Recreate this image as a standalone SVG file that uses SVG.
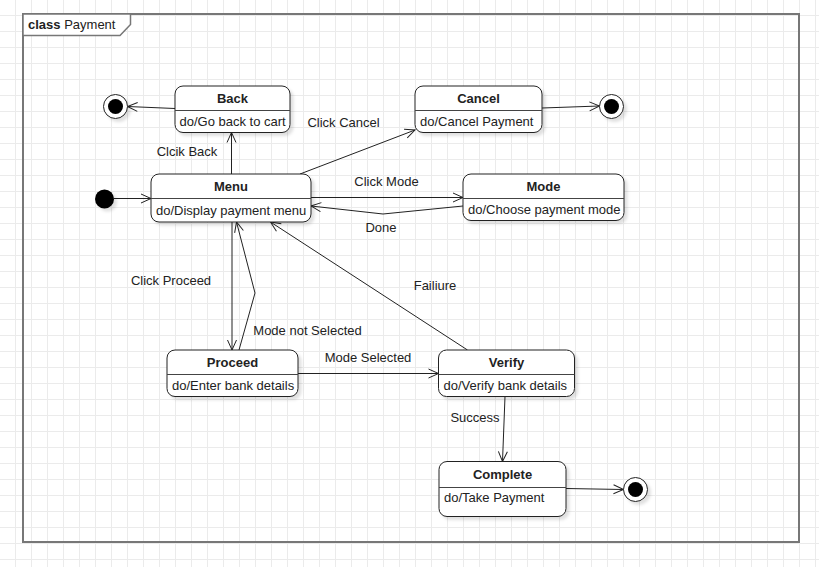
<svg xmlns="http://www.w3.org/2000/svg" width="819" height="567" viewBox="0 0 819 567">
  <style>
    text { font-family: "Liberation Sans", Arial, sans-serif; font-size: 13px; fill: #222; }
    .title { font-weight: bold; text-anchor: middle; }
    .act { text-anchor: start; }
    .lbl { text-anchor: middle; }
    .state { fill: #fff; stroke: #222; stroke-width: 1; }
    .div { stroke: #444; stroke-width: 1; }
    .edge { fill: none; stroke: #222; stroke-width: 1; marker-end: url(#open); }
    .frame { fill: none; stroke: #777; stroke-width: 2; }
  </style>
  <defs>
    <pattern id="grid" patternUnits="userSpaceOnUse" width="16" height="16">
      <path d="M15.5,0 V16 M0,15.5 H16" stroke="#ebebeb" stroke-width="1" fill="none"/>
    </pattern>
    <filter id="shadow" x="-20%" y="-20%" width="150%" height="150%">
      <feDropShadow dx="3" dy="3" stdDeviation="1.5" flood-color="#000" flood-opacity="0.12"/>
    </filter>
    <marker id="open" viewBox="-11 -6 12 12" refX="0" refY="0" markerWidth="12" markerHeight="12" markerUnits="userSpaceOnUse" orient="auto">
      <path d="M-10,-4.5 L0,0 L-10,4.5" fill="none" stroke="#222" stroke-width="1"/>
    </marker>
  </defs>

  <!-- background grid -->
  <rect width="819" height="567" fill="#fff"/>
  <rect width="819" height="567" fill="url(#grid)"/>

  <!-- class frame -->
  <g id="frame">
    <rect class="frame" x="23" y="14" width="776" height="528"/>
    <path d="M23,14 H130.5 V24.5 L120,35.5 H23 Z" fill="#fff" stroke="#777" stroke-width="1.5"/>
    <text x="28" y="29"><tspan font-weight="bold">class</tspan> Payment</text>
  </g>

  <!-- connectors -->
  <g id="connectors">
    <path class="edge" d="M114,198.5 L151,198.5"/>
    <path class="edge" d="M231.5,174 L231.5,132.5"/>
    <path class="edge" d="M175,108.5 L127.5,106.5"/>
    <path class="edge" d="M300,174 L415,130"/>
    <path class="edge" d="M542,108 L599.5,106"/>
    <path class="edge" d="M311,197.5 L463,197.5"/>
    <path class="edge" d="M463,206 L383,214 L311,206"/>
    <path class="edge" d="M232,222 L232,350"/>
    <path class="edge" d="M239,350 L255,293 L236.5,222"/>
    <path class="edge" d="M298,373.5 L438.5,373.5"/>
    <path class="edge" d="M467.5,350 L270.5,222"/>
    <path class="edge" d="M505,396.5 L502.5,461.5"/>
    <path class="edge" d="M566,488.5 L623.5,489.5"/>

    <text class="lbl" x="187" y="155.5">Clcik Back</text>
    <text class="lbl" x="343.5" y="126.5">Click Cancel</text>
    <text class="lbl" x="386.5" y="185.5">Click Mode</text>
    <text class="lbl" x="381" y="231.5">Done</text>
    <text class="lbl" x="171" y="284.5">Click Proceed</text>
    <text class="lbl" x="307.5" y="334.5">Mode not Selected</text>
    <text class="lbl" x="368" y="361.5">Mode Selected</text>
    <text class="lbl" x="435" y="289.5">Failiure</text>
    <text class="lbl" x="475" y="421.5">Success</text>
  </g>

  <!-- pseudo states -->
  <g id="initial" filter="url(#shadow)">
    <circle cx="104.5" cy="199" r="9.5" fill="#000"/>
  </g>
  <g id="final-back" filter="url(#shadow)">
    <circle cx="115.5" cy="106.5" r="12" fill="#fff" stroke="#222"/>
    <circle cx="115.5" cy="106.5" r="7.5" fill="#000"/>
  </g>
  <g id="final-cancel" filter="url(#shadow)">
    <circle cx="611.5" cy="106.5" r="12" fill="#fff" stroke="#222"/>
    <circle cx="611.5" cy="106.5" r="7.5" fill="#000"/>
  </g>
  <g id="final-complete" filter="url(#shadow)">
    <circle cx="635.5" cy="489.5" r="12" fill="#fff" stroke="#222"/>
    <circle cx="635.5" cy="489.5" r="7.5" fill="#000"/>
  </g>

  <!-- states -->
  <g id="back">
    <rect class="state" x="175" y="86" width="115" height="46.5" rx="8" filter="url(#shadow)"/>
    <line class="div" x1="175" y1="110.5" x2="290" y2="110.5"/>
    <text class="title" x="232.5" y="102.8">Back</text>
    <text class="act" x="179.5" y="126.3">do/Go back to cart</text>
  </g>
  <g id="cancel">
    <rect class="state" x="415" y="86" width="127" height="46.5" rx="8" filter="url(#shadow)"/>
    <line class="div" x1="415" y1="110.5" x2="542" y2="110.5"/>
    <text class="title" x="478.5" y="102.8">Cancel</text>
    <text class="act" x="420" y="126.3">do/Cancel Payment</text>
  </g>
  <g id="menu">
    <rect class="state" x="151" y="174" width="160" height="48" rx="8" filter="url(#shadow)"/>
    <line class="div" x1="151" y1="198.5" x2="311" y2="198.5"/>
    <text class="title" x="231" y="190.8">Menu</text>
    <text class="act" x="156" y="214.8">do/Display payment menu</text>
  </g>
  <g id="mode">
    <rect class="state" x="463" y="174" width="161" height="46.5" rx="8" filter="url(#shadow)"/>
    <line class="div" x1="463" y1="198.5" x2="624" y2="198.5"/>
    <text class="title" x="543.5" y="190.8">Mode</text>
    <text class="act" x="468" y="214.3">do/Choose payment mode</text>
  </g>
  <g id="proceed">
    <rect class="state" x="167" y="350" width="131" height="46.5" rx="8" filter="url(#shadow)"/>
    <line class="div" x1="167" y1="374.5" x2="298" y2="374.5"/>
    <text class="title" x="232.5" y="366.8">Proceed</text>
    <text class="act" x="172" y="390.3">do/Enter bank details</text>
  </g>
  <g id="verify">
    <rect class="state" x="438.5" y="350" width="136" height="46.5" rx="8" filter="url(#shadow)"/>
    <line class="div" x1="438.5" y1="374.5" x2="574.5" y2="374.5"/>
    <text class="title" x="506.5" y="366.8">Verify</text>
    <text class="act" x="443.5" y="390.3">do/Verify bank details</text>
  </g>
  <g id="complete">
    <rect class="state" x="439" y="461.5" width="127" height="55" rx="8" filter="url(#shadow)"/>
    <line class="div" x1="439" y1="487.5" x2="566" y2="487.5"/>
    <text class="title" x="502.5" y="478.8">Complete</text>
    <text class="act" x="444" y="502.3">do/Take Payment</text>
  </g>
</svg>
